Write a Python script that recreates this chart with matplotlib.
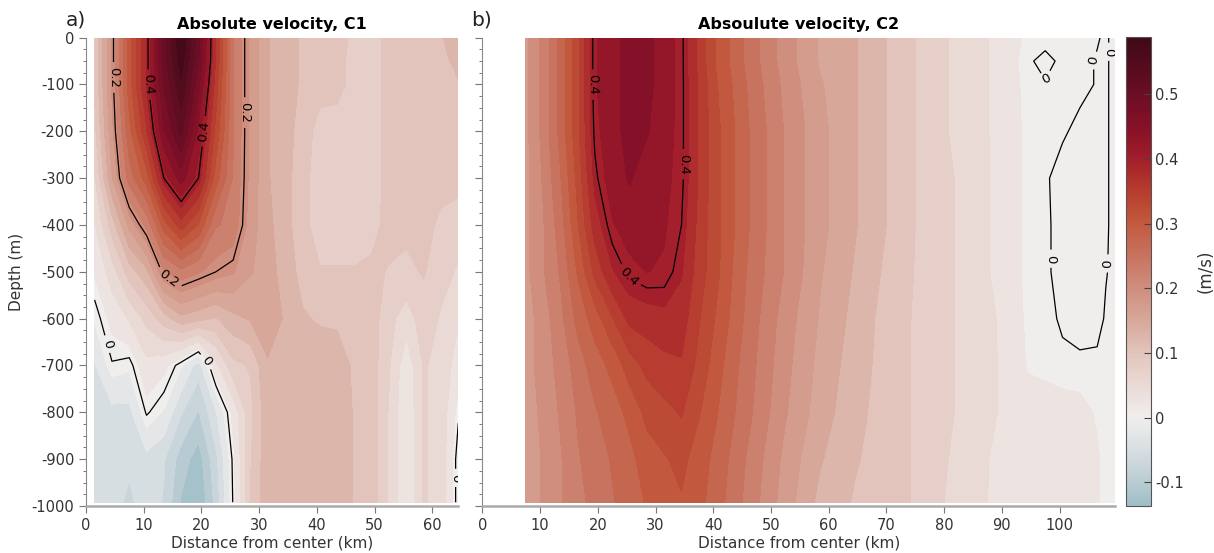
import numpy as np
import matplotlib
matplotlib.use("Agg")
import matplotlib.pyplot as plt
from matplotlib.colors import LinearSegmentedColormap, Normalize
from matplotlib.cm import ScalarMappable
from matplotlib.ticker import MultipleLocator

plt.rcParams['font.family'] = ['DejaVu Sans']
plt.rcParams['axes.unicode_minus'] = False

# depth levels of the section (m), shared by both panels
depth = [0, -50, -100, -200, -300, -400, -500, -600, -700, -800, -900, -992]

# panel a (C1): distance (km) and velocity profiles (m/s), one list per distance
dist_c1 = [1.5, 4.5, 7.5, 10.5, 13.5, 16.5, 19.5, 22.5, 25.5, 28.5, 31.5,
           34.5, 37.5, 40.5, 43.5, 46.5, 49.5, 52.5, 55.5, 58.5, 61.5, 64.5]
vel_c1 = [
    [0.09, 0.09, 0.09, 0.08, 0.06, 0.035, 0.015, -0.01, -0.04, -0.045, -0.045, -0.045],
    [0.19, 0.19, 0.19, 0.18, 0.16, 0.10, 0.05, 0.02, -0.002, -0.045, -0.05, -0.05],
    [0.30, 0.30, 0.30, 0.28, 0.25, 0.17, 0.10, 0.04, -0.008, -0.045, -0.055, -0.07],
    [0.39, 0.39, 0.39, 0.36, 0.30, 0.22, 0.13, 0.07, 0.03, 0.003, -0.045, -0.045],
    [0.50, 0.50, 0.49, 0.46, 0.40, 0.30, 0.21, 0.10, 0.02, -0.015, -0.06, -0.065],
    [0.588, 0.575, 0.56, 0.52, 0.45, 0.35, 0.23, 0.13, -0.01, -0.06, -0.10, -0.115],
    [0.50, 0.49, 0.47, 0.43, 0.40, 0.31, 0.215, 0.12, -0.05, -0.09, -0.125, -0.136],
    [0.36, 0.36, 0.35, 0.33, 0.30, 0.24, 0.20, 0.11, 0.03, -0.04, -0.07, -0.08],
    [0.24, 0.24, 0.24, 0.24, 0.235, 0.23, 0.19, 0.13, 0.08, 0.02, 0.005, 0.002],
    [0.18, 0.18, 0.18, 0.18, 0.18, 0.175, 0.165, 0.14, 0.09, 0.08, 0.085, 0.09],
    [0.14, 0.14, 0.14, 0.14, 0.14, 0.145, 0.15, 0.15, 0.135, 0.13, 0.13, 0.13],
    [0.12, 0.12, 0.12, 0.12, 0.12, 0.12, 0.125, 0.135, 0.135, 0.135, 0.135, 0.135],
    [0.11, 0.11, 0.11, 0.105, 0.10, 0.10, 0.105, 0.115, 0.13, 0.135, 0.135, 0.135],
    [0.11, 0.11, 0.10, 0.075, 0.07, 0.07, 0.09, 0.11, 0.125, 0.135, 0.135, 0.135],
    [0.10, 0.10, 0.10, 0.07, 0.07, 0.07, 0.09, 0.11, 0.12, 0.13, 0.13, 0.13],
    [0.08, 0.075, 0.075, 0.07, 0.07, 0.07, 0.09, 0.105, 0.11, 0.11, 0.11, 0.11],
    [0.07, 0.07, 0.07, 0.07, 0.07, 0.075, 0.095, 0.10, 0.10, 0.10, 0.10, 0.10],
    [0.10, 0.10, 0.10, 0.10, 0.10, 0.10, 0.085, 0.07, 0.065, 0.06, 0.06, 0.06],
    [0.10, 0.10, 0.10, 0.10, 0.10, 0.095, 0.08, 0.05, 0.02, 0.015, 0.015, 0.015],
    [0.10, 0.10, 0.10, 0.10, 0.10, 0.10, 0.09, 0.075, 0.065, 0.065, 0.065, 0.065],
    [0.11, 0.105, 0.10, 0.10, 0.10, 0.08, 0.07, 0.06, 0.055, 0.055, 0.055, 0.055],
    [0.13, 0.12, 0.11, 0.10, 0.10, 0.07, 0.06, 0.04, 0.025, 0.003, -0.01, -0.01],
]

# panel b (C2)
dist_c2 = [7.5, 10.5, 13.5, 16.5, 19.5, 22.5, 25.5, 28.5, 31.5, 34.5, 37.5, 40.5,
           43.5, 46.5, 52.5, 58.5, 64.5, 70.5, 76.5, 82.5, 88.5, 91.5, 94.5, 97.5,
           100.5, 103.5, 106.5, 108.0, 109.5]
vel_c2 = [
    [0.18, 0.18, 0.18, 0.18, 0.18, 0.18, 0.18, 0.175, 0.175, 0.17, 0.17, 0.17],
    [0.22, 0.22, 0.22, 0.22, 0.215, 0.21, 0.21, 0.20, 0.20, 0.195, 0.19, 0.19],
    [0.27, 0.27, 0.27, 0.27, 0.26, 0.25, 0.24, 0.23, 0.22, 0.215, 0.21, 0.21],
    [0.33, 0.33, 0.33, 0.33, 0.32, 0.31, 0.29, 0.27, 0.25, 0.24, 0.235, 0.23],
    [0.41, 0.41, 0.41, 0.405, 0.395, 0.375, 0.345, 0.30, 0.275, 0.26, 0.25, 0.245],
    [0.43, 0.43, 0.43, 0.43, 0.425, 0.41, 0.385, 0.335, 0.295, 0.275, 0.265, 0.26],
    [0.445, 0.445, 0.445, 0.445, 0.44, 0.425, 0.405, 0.37, 0.325, 0.295, 0.28, 0.275],
    [0.445, 0.445, 0.445, 0.44, 0.425, 0.418, 0.413, 0.375, 0.345, 0.32, 0.30, 0.29],
    [0.425, 0.425, 0.425, 0.422, 0.418, 0.415, 0.41, 0.38, 0.355, 0.33, 0.31, 0.30],
    [0.405, 0.405, 0.405, 0.405, 0.405, 0.40, 0.39, 0.375, 0.36, 0.34, 0.32, 0.31],
    [0.355, 0.355, 0.36, 0.36, 0.36, 0.355, 0.35, 0.34, 0.33, 0.315, 0.30, 0.295],
    [0.31, 0.31, 0.315, 0.32, 0.32, 0.32, 0.32, 0.31, 0.30, 0.29, 0.28, 0.275],
    [0.28, 0.28, 0.285, 0.29, 0.29, 0.29, 0.285, 0.28, 0.27, 0.265, 0.255, 0.25],
    [0.25, 0.25, 0.255, 0.26, 0.26, 0.26, 0.255, 0.25, 0.245, 0.24, 0.23, 0.225],
    [0.20, 0.20, 0.205, 0.21, 0.21, 0.21, 0.21, 0.20, 0.195, 0.19, 0.18, 0.175],
    [0.16, 0.16, 0.165, 0.17, 0.17, 0.17, 0.165, 0.16, 0.155, 0.15, 0.14, 0.13],
    [0.14, 0.14, 0.14, 0.14, 0.14, 0.14, 0.135, 0.13, 0.125, 0.12, 0.115, 0.11],
    [0.11, 0.11, 0.11, 0.11, 0.11, 0.11, 0.105, 0.10, 0.10, 0.10, 0.10, 0.10],
    [0.08, 0.08, 0.08, 0.08, 0.08, 0.08, 0.08, 0.08, 0.08, 0.08, 0.08, 0.08],
    [0.055, 0.055, 0.055, 0.055, 0.06, 0.06, 0.06, 0.06, 0.06, 0.06, 0.055, 0.05],
    [0.035, 0.035, 0.035, 0.035, 0.035, 0.035, 0.035, 0.04, 0.04, 0.04, 0.035, 0.035],
    [0.02, 0.02, 0.02, 0.02, 0.02, 0.02, 0.02, 0.025, 0.03, 0.03, 0.03, 0.03],
    [0.008, 0.002, 0.006, 0.008, 0.008, 0.008, 0.008, 0.008, 0.01, 0.025, 0.03, 0.03],
    [0.005, -0.004, 0.001, 0.005, 0.001, 0.002, 0.002, 0.004, 0.006, 0.025, 0.03, 0.03],
    [0.003, 0.003, 0.003, 0.001, -0.003, -0.004, -0.004, -0.002, 0.003, 0.022, 0.028, 0.028],
    [0.002, 0.002, 0.002, -0.002, -0.004, -0.005, -0.005, -0.004, 0.002, 0.02, 0.025, 0.025],
    [0.0005, -0.0005, -0.0005, -0.003, -0.004, -0.005, -0.005, -0.003, 0.002, 0.01, 0.015, 0.015],
    [-0.001, -0.001, -0.001, -0.001, -0.001, -0.001, -0.0005, 0.001, 0.003, 0.005, 0.006, 0.006],
    [0.002, 0.002, 0.002, 0.002, 0.002, 0.002, 0.002, 0.003, 0.004, 0.005, 0.006, 0.006],
]

vmin, vmax = -0.136, 0.588
cbar_ticks = [-0.1, 0, 0.1, 0.2, 0.3, 0.4, 0.5]

# diverging colormap
anchors = [(-0.136, '#9ebfc8'), (-0.111, '#b2c8cf'), (-0.06, '#d3dbdf'),
           (0.0, '#f0eeed'), (0.043, '#ebdcd8'), (0.095, '#e3c7bf'),
           (0.146, '#d8aa9d'), (0.198, '#d08f7f'), (0.25, '#c87360'),
           (0.30, '#c25a3e'), (0.342, '#b84230'), (0.368, '#b0322c'),
           (0.40, '#a21f2b'), (0.445, '#891128'), (0.497, '#6d0e25'),
           (0.588, '#3f0a17')]
cmap = LinearSegmentedColormap.from_list(
    'vel', [((v - vmin) / (vmax - vmin), c) for v, c in anchors])
norm = Normalize(vmin, vmax)
levels = np.linspace(-0.1375, 0.6125, 31)

fig = plt.figure(figsize=(12.14, 5.53), dpi=100)
ax1 = fig.add_axes([0.0708, 0.085, 0.3067, 0.8469])
ax2 = fig.add_axes([0.3973, 0.085, 0.5212, 0.8469])
cax = fig.add_axes([0.9275, 0.0855, 0.0203, 0.847])

panels = [
    (ax1, dist_c1, vel_c1, [0, 0.2, 0.4], 64.5, 'Absolute velocity, C1',
     [(4.9, -85), (11.0, -100), (20.5, -200), (27.1, -160), (14.5, -510),
      (3.5, -655), (21.0, -690), (64.2, -940)]),
    (ax2, dist_c2, vel_c2, [0, 0.4], 109.6, 'Absoulute velocity, C2',
     [(19.2, -100), (34.5, -270), (24.3, -521), (107.6, -30), (106.3, -50),
      (97.9, -90), (98.0, -472), (108.1, -482)]),
]

for ax, dist, vel, lines, xmax, title, lab_pos in panels:
    X, Z = np.meshgrid(dist, depth)
    V = np.array(vel).T
    ax.contourf(X, Z, V, levels=levels, cmap=cmap, norm=norm)
    cs = ax.contour(X, Z, V, levels=lines, colors='k', linewidths=0.9)
    ax.clabel(cs, fmt='%g', fontsize=9.5, manual=lab_pos, inline=True)
    ax.set_xlim(0, xmax)
    ax.set_ylim(-1000, 0)
    ax.set_xticks(np.arange(0, xmax, 10))
    ax.set_yticks(np.arange(-1000, 1, 100))
    ax.yaxis.set_minor_locator(MultipleLocator(25))
    ax.tick_params(direction='out', length=5, width=0.8, color='#777777',
                   labelcolor='#333333', labelsize=10.5)
    ax.tick_params(which='minor', direction='out', length=2.5, width=0.7,
                   color='#777777')
    for s in ['top', 'right']:
        ax.spines[s].set_visible(False)
    ax.spines['left'].set_color('#888888')
    ax.spines['bottom'].set_color('#aaaaaa')
    ax.spines['bottom'].set_linewidth(1.8)
    ax.set_title(title, fontweight='bold', fontsize=11.5, pad=6)
    ax.set_xlabel('Distance from center (km)', fontsize=11, color='#333333',
                  labelpad=2)

ax1.set_ylabel('Depth (m)', fontsize=11, color='#333333', labelpad=5)
ax2.tick_params(labelleft=False)

fig.text(0.0544, 0.953, 'a)', fontsize=14.5, color='#222222')
fig.text(0.3880, 0.953, 'b)', fontsize=14.5, color='#222222')

cb = fig.colorbar(ScalarMappable(norm=norm, cmap=cmap), cax=cax)
cb.set_ticks(cbar_ticks)
cb.set_ticklabels(['%g' % t for t in cbar_ticks])
cb.ax.tick_params(direction='in', length=5, width=0.8, color='#444444',
                  labelcolor='#333333', labelsize=10.5)
cb.outline.set_edgecolor('#555555')
cb.set_label('(m/s)', fontsize=12, color='#333333', labelpad=9)

fig.savefig('out.png', dpi=100)
